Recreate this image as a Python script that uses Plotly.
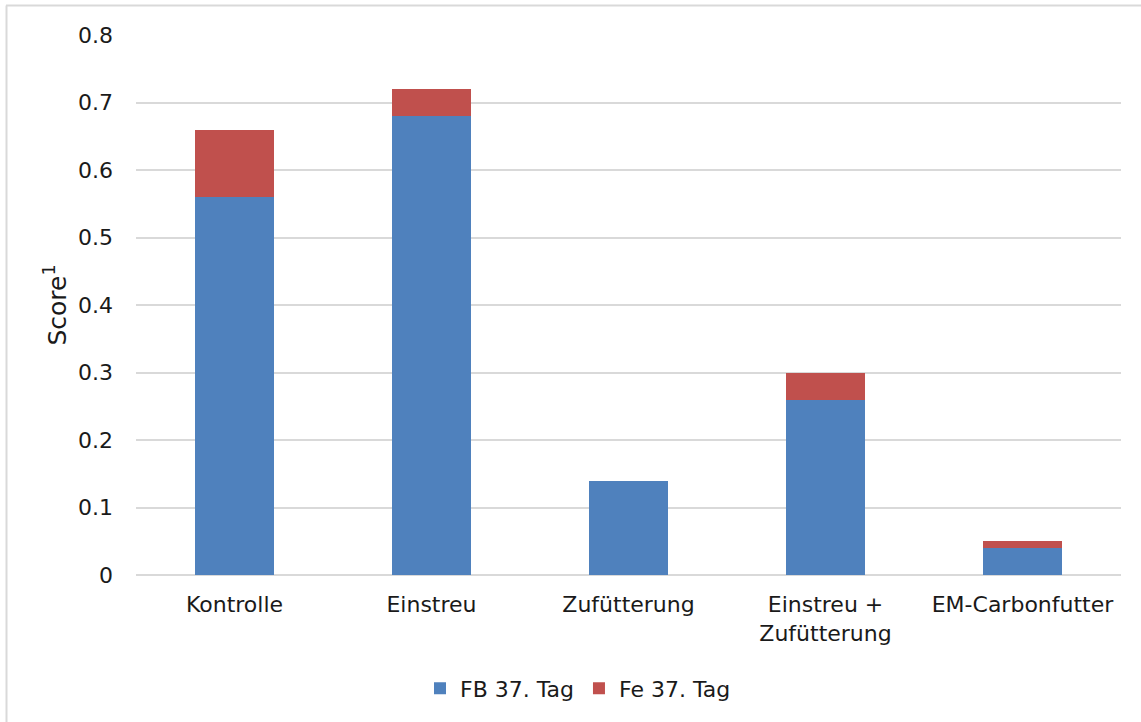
import plotly.graph_objects as go

categories = ["Kontrolle", "Einstreu", "Zufütterung", "Einstreu +<br>Zufütterung", "EM-Carbonfutter"]
fb_37 = [0.56, 0.68, 0.14, 0.26, 0.04]
fe_37 = [0.10, 0.04, 0.00, 0.04, 0.01]
y_ticks = [0, 0.1, 0.2, 0.3, 0.4, 0.5, 0.6, 0.7, 0.8]
y_tick_text = ["0", "0.1", "0.2", "0.3", "0.4", "0.5", "0.6", "0.7", "0.8"]

FONT = "'DejaVu Sans', 'Century Gothic', sans-serif"
FS = 22

fig = go.Figure()
fig.add_trace(go.Bar(x=categories, y=fb_37, name="FB 37. Tag",
                     marker=dict(color="#4F81BD", line=dict(width=0))))
fig.add_trace(go.Bar(x=categories, y=fe_37, name="Fe 37. Tag",
                     marker=dict(color="#C0504D", line=dict(width=0))))

fig.update_layout(
    barmode="stack",
    bargap=0.6,
    width=1141, height=722,
    margin=dict(l=136, r=20, t=35, b=147),
    paper_bgcolor="white", plot_bgcolor="white",
    font=dict(family=FONT, size=FS, color="#1a1a1a"),
    legend=dict(orientation="h", x=(420 - 136) / 985, xanchor="left",
                y=-0.21, yanchor="middle", font=dict(size=FS),
                itemsizing="constant", traceorder="normal"),
    xaxis=dict(showgrid=False, showline=False, ticks="", ticklabelstandoff=14,
               tickfont=dict(size=FS)),
    yaxis=dict(range=[0, 0.8], tickvals=y_ticks, ticktext=y_tick_text,
               showgrid=True, gridcolor="#d9d9d9", gridwidth=2,
               zeroline=True, zerolinecolor="#d9d9d9", zerolinewidth=2,
               showline=False, ticks="", ticklabelstandoff=22,
               tickfont=dict(size=FS),
               title=dict(text="Score<sup>1</sup>", standoff=4,
                          font=dict(size=25))),
    shapes=[
        dict(type="line", xref="paper", yref="paper",
             x0=(6 - 136) / 985, x1=1.1, y0=1 + (35 - 5.5) / 540, y1=1 + (35 - 5.5) / 540,
             line=dict(color="#d9d9d9", width=2)),
        dict(type="line", xref="paper", yref="paper",
             x0=(6.5 - 136) / 985, x1=(6.5 - 136) / 985, y0=-0.5, y1=1 + (35 - 5.5) / 540,
             line=dict(color="#d9d9d9", width=2)),
    ],
    showlegend=True,
)

fig.write_html("out.html")
